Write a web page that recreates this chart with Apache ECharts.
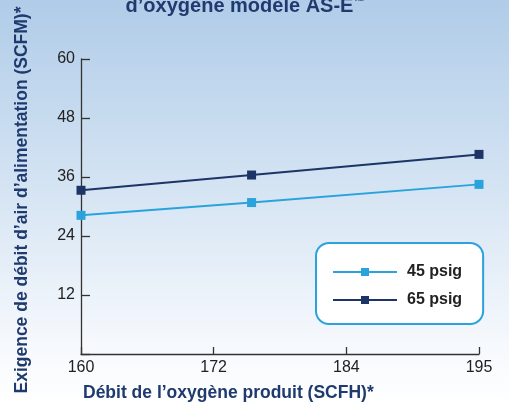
<!DOCTYPE html>
<html>
<head>
<meta charset="utf-8">
<script src="https://cdn.jsdelivr.net/npm/echarts@6/dist/echarts.min.js"></script>
<style>
html,body{margin:0;padding:0;}
#c{width:509px;height:406px;}
</style>
</head>
<body>
<div id="c"></div>
<script>
var xValues = [160, 175, 195];
var series45 = [28.2, 30.8, 34.5];
var series65 = [33.3, 36.4, 40.6];
var seriesNames = ['45 psig', '65 psig'];
var xTickLabels = ['160', '172', '184', '195'];
var yTickLabels = [0, 12, 24, 36, 48, 60];
var titleText = 'd\u2019oxyg\u00e8ne mod\u00e8le AS-E';
var titleMark = '\u2122';
var xName = 'D\u00e9bit de l\u2019oxyg\u00e8ne produit (SCFH)*';
var yName = 'Exigence de d\u00e9bit d\u2019air d\u2019alimentation (SCFM)*';

var xMin = 160, xMax = 195;
var step = (xMax - xMin) / (xTickLabels.length - 1);
var xTickPos = xTickLabels.map(function (l, i) { return xMin + i * step; });

var navy = '#1d3466', light = '#2aa3dd', titleColor = '#1f3a6e';
var font = '"Liberation Sans", Arial, sans-serif';

var chart = echarts.init(document.getElementById('c'));
chart.setOption({
  backgroundColor: {
    type: 'linear', x: 0, y: 0, x2: 0, y2: 1,
    colorStops: [
      {offset: 0, color: '#b0cce8'},
      {offset: 0.5, color: '#d8e6f4'},
      {offset: 0.85, color: '#f6f9fd'},
      {offset: 1, color: '#ffffff'}
    ]
  },
  textStyle: {fontFamily: font},
  animation: false,
  grid: {left: 81, right: 30, top: 59, bottom: 52},
  xAxis: {
    type: 'value', min: xMin, max: xMax,
    splitLine: {show: false},
    axisLine: {lineStyle: {color: '#333', width: 1.3}},
    axisTick: {inside: true, length: 7, customValues: xTickPos, lineStyle: {color: '#333', width: 1.3}},
    axisLabel: {
      customValues: xTickPos, margin: 6, color: '#222', fontSize: 16, fontFamily: font,
      formatter: function (v) { return xTickLabels[Math.round((v - xMin) / step)]; }
    }
  },
  yAxis: {
    type: 'value', min: 0, max: 60, interval: 12,
    splitLine: {show: false},
    axisLine: {show: true, lineStyle: {color: '#333', width: 1.3}},
    axisTick: {show: true, inside: true, length: 9, lineStyle: {color: '#333', width: 1.3}},
    axisLabel: {
      margin: 6, color: '#222', fontSize: 16, fontFamily: font, padding: [3, 0, 0, 0],
      formatter: function (v) { return v === 0 ? '' : String(v); }
    }
  },
  legend: {
    orient: 'vertical', left: 316, top: 243,
    backgroundColor: '#ffffff', borderColor: '#2aa3dd', borderWidth: 2, borderRadius: 13,
    padding: [21, 21, 16, 16],
    itemWidth: 64, itemHeight: 10, itemGap: 12,
    textStyle: {fontSize: 16, fontWeight: 'bold', color: '#222', fontFamily: font, padding: [0, 0, 0, 5]},
    data: seriesNames
  },
  series: [
    {
      name: seriesNames[0], type: 'line', symbol: 'rect', symbolSize: 9,
      lineStyle: {color: light, width: 2}, itemStyle: {color: light},
      data: xValues.map(function (x, i) { return [x, series45[i]]; })
    },
    {
      name: seriesNames[1], type: 'line', symbol: 'rect', symbolSize: 9,
      lineStyle: {color: navy, width: 2}, itemStyle: {color: navy},
      data: xValues.map(function (x, i) { return [x, series65[i]]; })
    }
  ],
  graphic: [
    {type: 'text', x: 245, y: 6, style: {
      text: '{a|' + titleText + '}{b|' + titleMark + '}',
      rich: {
        a: {font: 'bold 20px ' + font, fill: titleColor, color: titleColor},
        b: {font: 'bold 11px ' + font, fill: titleColor, color: titleColor, verticalAlign: 'top', padding: [0, 0, 8, 0]}
      },
      align: 'center', verticalAlign: 'middle'}},
    {type: 'text', x: 83, y: 393, style: {text: xName, font: 'bold 17.5px ' + font, fill: titleColor, align: 'left', verticalAlign: 'middle'}},
    {type: 'text', x: 22, y: 200, rotation: Math.PI / 2, style: {text: yName, font: 'bold 17.5px ' + font, fill: titleColor, align: 'center', verticalAlign: 'middle'}}
  ]
});
</script>
</body>
</html>
